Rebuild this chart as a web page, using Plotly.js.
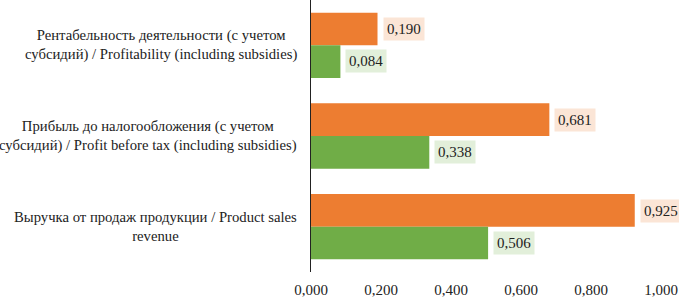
<!DOCTYPE html>
<html><head><meta charset="utf-8">
<script src="https://cdn.plot.ly/plotly-3.0.1.min.js"></script>
<style>html,body{margin:0;padding:0;background:#fff}#chart{width:679px;height:297px}</style>
</head><body><div id="chart"></div>
<script>
const categories = [
  "Рентабельность деятельности (с учетом<br>субсидий) / Profitability (including subsidies)",
  "Прибыль до налогообложения (с учетом<br>субсидий) / Profit before tax (including subsidies)",
  "Выручка от продаж продукции / Product sales<br>revenue"
];
const orangeValues = [0.190, 0.681, 0.925];
const greenValues = [0.084, 0.338, 0.506];
const orangeLabels = ["0,190", "0,681", "0,925"];
const greenLabels = ["0,084", "0,338", "0,506"];

const FONT = "'Liberation Serif', 'Times New Roman', serif";
const traces = [
  {type:'bar', orientation:'h', y:categories, x:orangeValues, name:'orange',
   marker:{color:'#ED7D31'}, hoverinfo:'none'},
  {type:'bar', orientation:'h', y:categories, x:greenValues, name:'green',
   marker:{color:'#70AD47'}, hoverinfo:'none'}
];
const annotations = [];
categories.forEach((c,i)=>{
  annotations.push({xref:'paper', yref:'y', x:-0.035, y:c, text:c, showarrow:false,
    xanchor:'right', yanchor:'middle', align:'center',
    font:{family:FONT, size:14.7, color:'#222'}});
  annotations.push({xref:'x', yref:'y', x:orangeValues[i], y:c, yshift:16, xshift:5,
    text:orangeLabels[i], showarrow:false, xanchor:'left', yanchor:'middle',
    bgcolor:'#FBE5D6', borderpad:3, font:{family:FONT, size:15, color:'#222'}});
  annotations.push({xref:'x', yref:'y', x:greenValues[i], y:c, yshift:-16, xshift:5,
    text:greenLabels[i], showarrow:false, xanchor:'left', yanchor:'middle',
    bgcolor:'#E2EFDA', borderpad:3, font:{family:FONT, size:15, color:'#222'}});
});
const layout = {
  width:679, height:297,
  margin:{l:311, r:18, t:0, b:25},
  paper_bgcolor:'#fff', plot_bgcolor:'#fff',
  separators:', ',
  barmode:'group', bargap:0.28, bargroupgap:0,
  showlegend:false,
  font:{family:FONT, size:15, color:'#222'},
  xaxis:{range:[0,1], dtick:0.2, tick0:0, tickformat:'.3f', showgrid:false, zeroline:false,
    showline:false, ticks:'', ticklabelstandoff:7, tickfont:{family:FONT, size:15, color:'#222'}},
  yaxis:{type:'category', autorange:'reversed', showticklabels:false, showgrid:false,
    zeroline:false, showline:true, linecolor:'#222', linewidth:1, ticks:''},
  annotations:annotations
};
Plotly.newPlot('chart', traces, layout, {staticPlot:true});
</script></body></html>
